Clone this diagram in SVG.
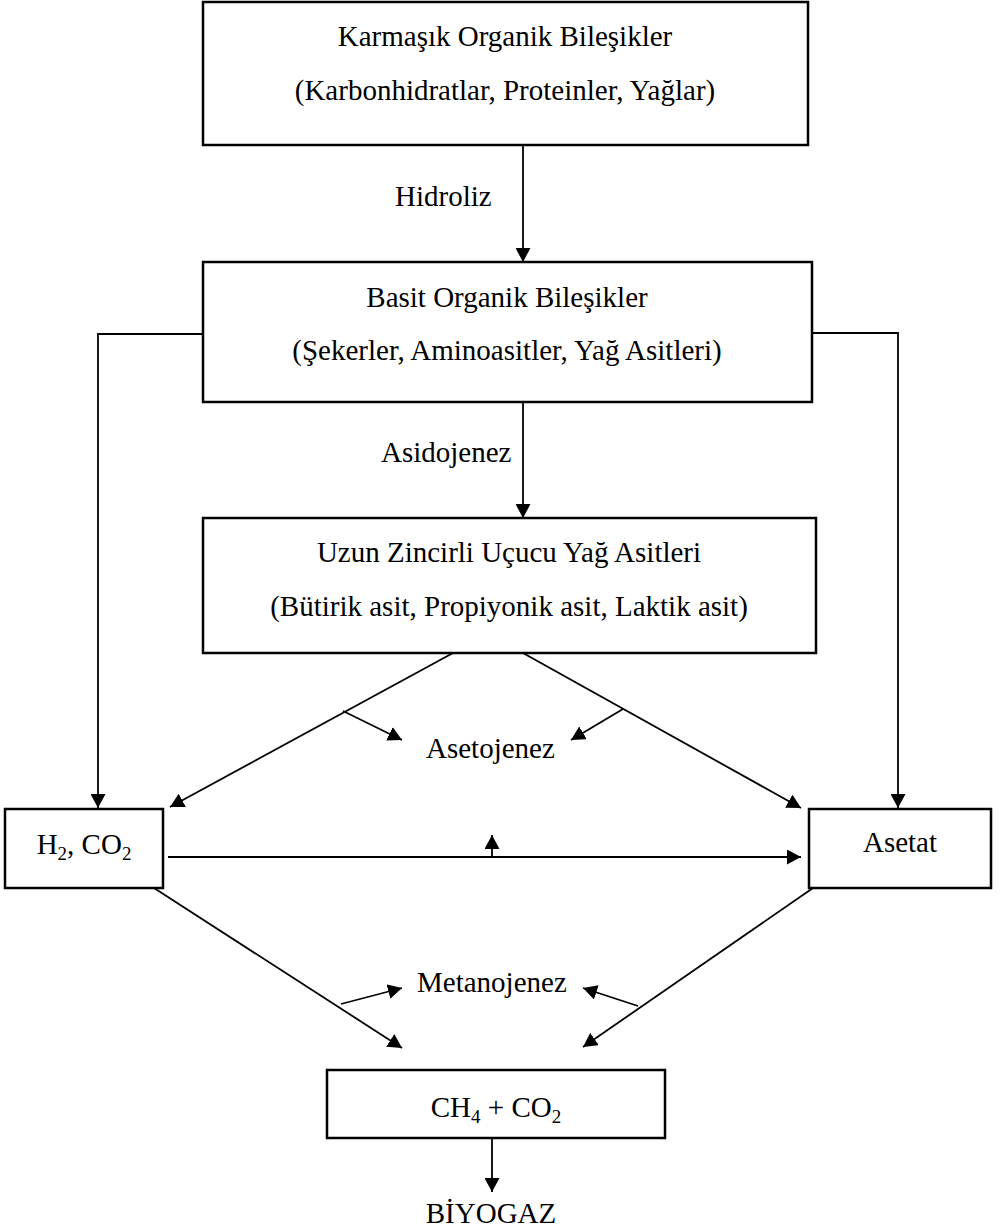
<svg xmlns="http://www.w3.org/2000/svg" width="1008" height="1231" viewBox="0 0 1008 1231">
<style>
.box{fill:#fff;stroke:#000;stroke-width:2.5}
.t{font-family:"Liberation Serif","Times New Roman",serif;font-size:29px;fill:#000}
.m{text-anchor:middle}
.c{fill:none;stroke:#000;stroke-width:1.8}
</style>
<defs>
<marker id="ah" markerUnits="userSpaceOnUse" markerWidth="14" markerHeight="15" refX="14" refY="7.5" orient="auto">
<path d="M0,0 L14,7.5 L0,15 z" fill="#000"/>
</marker>
</defs>
<rect width="1008" height="1231" fill="#fff"/>
<g id="connectors">
<path class="c" d="M523,145 V262" marker-end="url(#ah)"/>
<path class="c" d="M523,402 V518" marker-end="url(#ah)"/>
<path class="c" d="M203,334 H98 V808" marker-end="url(#ah)"/>
<path class="c" d="M812,333 H898 V808" marker-end="url(#ah)"/>
<path class="c" d="M453,653 L170,807" marker-end="url(#ah)"/>
<path class="c" d="M523,653 L801,808" marker-end="url(#ah)"/>
<path class="c" d="M343,711 L402,740" marker-end="url(#ah)"/>
<path class="c" d="M623,709 L571,740" marker-end="url(#ah)"/>
<path class="c" d="M168,857 H801" marker-end="url(#ah)"/>
<path class="c" d="M492,857 V835" marker-end="url(#ah)"/>
<path class="c" d="M154,888 L402,1048" marker-end="url(#ah)"/>
<path class="c" d="M813,888 L583,1047" marker-end="url(#ah)"/>
<path class="c" d="M341,1004 L402,988" marker-end="url(#ah)"/>
<path class="c" d="M638,1006 L583,988" marker-end="url(#ah)"/>
<path class="c" d="M492,1138 V1192" marker-end="url(#ah)"/>
</g>
<g id="karmasik">
<rect class="box" x="203" y="2" width="605" height="143"/>
<text class="t m" x="505" y="46">Karmaşık Organik Bileşikler</text>
<text class="t m" x="505" y="100">(Karbonhidratlar, Proteinler, Yağlar)</text>
</g>
<g id="basit">
<rect class="box" x="203" y="262" width="609" height="140"/>
<text class="t m" x="507" y="307">Basit Organik Bileşikler</text>
<text class="t m" x="507" y="360">(Şekerler, Aminoasitler, Yağ Asitleri)</text>
</g>
<g id="uzun">
<rect class="box" x="203" y="518" width="613" height="135"/>
<text class="t m" x="509" y="562">Uzun Zincirli Uçucu Yağ Asitleri</text>
<text class="t m" x="509" y="616">(Bütirik asit, Propiyonik asit, Laktik asit)</text>
</g>
<g id="h2co2">
<rect class="box" x="5" y="809" width="158" height="79"/>
<text class="t m" x="84" y="854">H<tspan font-size="19" dy="6">2</tspan><tspan dy="-6">, CO</tspan><tspan font-size="19" dy="6">2</tspan></text>
</g>
<g id="asetat">
<rect class="box" x="809" y="809" width="182" height="79"/>
<text class="t m" x="900" y="852">Asetat</text>
</g>
<g id="ch4co2">
<rect class="box" x="327" y="1070" width="338" height="68"/>
<text class="t m" x="496" y="1117">CH<tspan font-size="19" dy="6">4</tspan><tspan dy="-6"> + CO</tspan><tspan font-size="19" dy="6">2</tspan></text>
</g>
<g id="labels">
<text class="t" x="395" y="206">Hidroliz</text>
<text class="t" x="381" y="462">Asidojenez</text>
<text class="t" x="426" y="758">Asetojenez</text>
<text class="t" x="417" y="992">Metanojenez</text>
<text class="t m" x="491" y="1223">BİYOGAZ</text>
</g>
</svg>
